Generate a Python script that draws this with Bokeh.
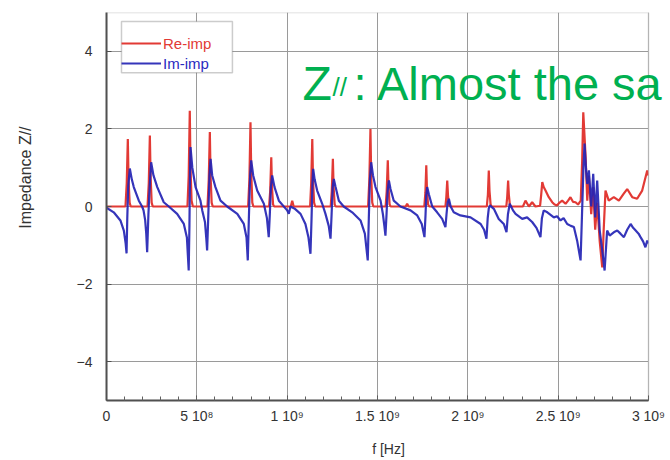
import numpy as np
from bokeh.plotting import figure
from bokeh.models import (Range1d, FixedTicker, Legend, LegendItem, Label,
                          ColumnDataSource, BoxAnnotation)
from bokeh.embed import file_html
from bokeh.resources import INLINE

# ---------------- data ----------------
# Real part of the impedance: frequency in MHz, value
re_freq_mhz = [0, 105, 112, 118, 122, 128, 134,
               227, 234, 240, 244, 250, 256,
               448, 455, 461, 465, 471, 478,
               559, 566, 572, 576, 582, 588,
               784, 791, 797, 801, 807, 813,
               900, 906, 912, 916, 922, 928,
               1020, 1028, 1036,
               1127, 1133, 1139, 1143, 1149, 1155,
               1241, 1247, 1253, 1257, 1263, 1269,
               1448, 1455, 1461, 1465, 1471, 1477,
               1545, 1551, 1557, 1561, 1567, 1573,
               1656, 1664, 1672,
               1759, 1765, 1770, 1774, 1780, 1786,
               1876, 1881, 1886, 1890, 1896, 1902,
               2105, 2111, 2116, 2120, 2126, 2132,
               2213, 2218, 2223, 2227, 2233, 2239,
               2305, 2319, 2338, 2356, 2374,
               2400, 2406, 2412, 2420, 2430, 2448, 2467, 2480, 2494, 2508,
               2522, 2541, 2555, 2568, 2582, 2596, 2610, 2625, 2633, 2639,
               2652, 2661, 2670, 2683, 2694, 2705, 2716, 2730, 2744, 2752,
               2762, 2780, 2808, 2836, 2863, 2882, 2910, 2937, 2965, 2993, 3000]
re_value = [0, 0, 0.6, 1.74, 0.7, 0.1, 0,
            0, 0.6, 1.83, 0.8, 0.1, 0,
            0, 0.8, 2.47, 1.0, 0.15, 0,
            0, 0.7, 1.92, 0.8, 0.1, 0,
            0, 0.7, 2.17, 0.9, 0.1, 0,
            0, 0.4, 1.27, 0.5, 0.05, 0,
            0, 0.15, 0,
            0, 0.6, 1.74, 0.7, 0.1, 0,
            0, 0.4, 1.23, 0.5, 0.05, 0,
            0, 0.7, 2.0, 0.8, 0.1, 0,
            0, 0.4, 1.19, 0.5, 0.05, 0,
            0, 0.07, 0,
            0, 0.35, 1.06, 0.4, 0.05, 0,
            0, 0.25, 0.67, 0.3, 0.03, 0,
            0, 0.3, 0.93, 0.4, 0.05, 0,
            0, 0.25, 0.67, 0.3, 0.03, 0,
            0, 0.15, 0.0, 0.11, 0.0,
            0.02, 0.3, 0.63, 0.5, 0.41, 0.24, 0.11, 0.05, 0.03, 0.1,
            0.15, 0.07, 0.15, 0.24, 0.12, 0.11, 0.05, 0.15, 1.2, 2.43,
            1.27, 0.15, 0.8, -0.2, 0.5, -0.6, 0.1, -0.9, -1.57, -0.6,
            0.41, 0.15, 0.24, 0.15, 0.33, 0.45, 0.24, 0.2, 0.41, 0.93, 0.8]

# Imaginary part of the impedance: frequency in MHz, value
im_freq_mhz = [0, 40, 77, 96, 106, 111, 115, 120, 129, 140, 151, 179, 197,
               205, 214, 220, 225, 232, 240, 247, 260, 281, 317, 345,
               391, 428, 445, 455, 459, 462, 465, 475, 493, 520,
               530, 545, 552, 557, 563, 570, 576, 585, 603, 631, 668,
               724, 760, 775, 782, 788, 795, 801, 812, 834, 871,
               888, 898, 904, 910, 917, 930, 954, 1000, 1009, 1018, 1040,
               1074, 1101, 1118, 1129, 1135, 1140, 1144, 1152, 1166, 1194,
               1212, 1230, 1240, 1246, 1252, 1258, 1268, 1286, 1313,
               1360, 1406, 1430, 1446, 1452, 1458, 1465, 1475, 1489, 1517,
               1530, 1538, 1544, 1550, 1556, 1563, 1572, 1590, 1627,
               1683, 1720, 1745, 1760, 1766, 1770, 1775, 1785, 1803,
               1830, 1858, 1876, 1882, 1888, 1895, 1905, 1922, 1959, 2015,
               2071, 2090, 2103, 2110, 2116, 2122, 2144, 2171, 2199,
               2214, 2222, 2232, 2250, 2264, 2301, 2328, 2356, 2380,
               2402, 2410, 2420, 2440, 2476, 2494, 2513, 2530, 2550, 2570,
               2587, 2605, 2624, 2632, 2640, 2646, 2655, 2661, 2670, 2683,
               2694, 2705, 2716, 2730, 2744, 2757, 2771, 2785, 2799, 2813,
               2827, 2845, 2864, 2882, 2901, 2915, 2929, 2945, 2956, 2970,
               2983, 2993, 3000]
im_value = [-0.03, -0.15, -0.36, -0.62, -0.95, -1.21, -0.3, 0.5, 0.98, 0.7, 0.5, 0.15, 0.0,
            -0.1, -0.35, -0.7, -1.18, -0.2, 0.6, 1.14, 0.8, 0.5, 0.11, 0.0,
            -0.19, -0.45, -0.8, -1.65, -0.5, 0.8, 1.53, 1.0, 0.5, 0.15,
            -0.1, -0.4, -0.8, -1.13, -0.3, 0.8, 1.23, 0.8, 0.5, 0.15, 0.0,
            -0.19, -0.45, -0.8, -1.39, -0.3, 0.8, 1.19, 0.8, 0.41, 0.07,
            -0.3, -0.79, -0.2, 0.5, 0.8, 0.5, 0.15, -0.1, -0.19, 0.0, -0.05,
            -0.19, -0.45, -0.8, -1.22, -0.3, 0.6, 0.97, 0.7, 0.41, 0.07,
            -0.19, -0.5, -0.83, -0.2, 0.5, 0.71, 0.5, 0.15, 0.0,
            -0.15, -0.36, -0.7, -1.39, -0.3, 0.7, 1.14, 0.8, 0.5, 0.15,
            -0.2, -0.5, -0.75, -0.2, 0.4, 0.67, 0.45, 0.15, 0.0,
            -0.1, -0.23, -0.45, -0.79, -0.2, 0.3, 0.5, 0.3, 0.0,
            -0.15, -0.32, -0.53, -0.2, 0.1, 0.2, 0.0, -0.15, -0.23, -0.28,
            -0.45, -0.6, -0.83, -0.3, -0.05, 0.03, -0.06, -0.32, -0.45,
            -0.66, -0.2, 0.07, -0.1, -0.19, -0.32, -0.28, -0.4, -0.55,
            -0.79, -0.3, -0.1, -0.15, -0.28, -0.25, -0.36, -0.3, -0.45, -0.5,
            -0.53, -0.88, -1.39, -0.2, 1.0, 1.62, 0.9, 0.58, 0.93, 0.0,
            0.84, -0.28, 0.67, -0.62, -1.13, -1.65, -0.62, -0.75, -0.7, -0.65,
            -0.62, -0.7, -0.79, -0.6, -0.45, -0.55, -0.62, -0.7, -0.79, -0.9,
            -1.05, -0.88, -0.95]

x_ticks = [0, 500000000, 1000000000, 1500000000, 2000000000, 2500000000, 3000000000]
x_tick_labels = ["0", "5 10\u2078", "1 10\u2079", "1.5 10\u2079", "2 10\u2079", "2.5 10\u2079", "3 10\u2079"]
y_ticks = [-4, -2, 0, 2, 4]
series_names = ["Re-imp", "Im-imp"]

X_MAX, Y_MIN, Y_MAX = 3e9, -5, 5

# ---------------- figure ----------------
# The frame runs on to the right edge of the picture (so that the overlay text is not cut),
# the part right of 3e9 is masked white and the visible plot box is drawn at 0..3e9.
W, H = 670, 460
frame_px = W - 106
x_end = X_MAX * frame_px / 542.0
p = figure(width=W, height=H, output_backend="svg", toolbar_location=None,
           x_range=Range1d(0, x_end), y_range=Range1d(Y_MIN, Y_MAX),
           min_border_left=106, min_border_right=0, min_border_top=12,
           min_border_bottom=60)
p.background_fill_color = "white"
p.border_fill_color = "white"
p.outline_line_color = None

re_src = ColumnDataSource(dict(f=np.array(re_freq_mhz) * 1e6, v=re_value))
im_src = ColumnDataSource(dict(f=np.array(im_freq_mhz) * 1e6, v=im_value))
r_re = p.line("f", "v", source=re_src, line_color="#e23a35", line_width=2.2)
r_im = p.line("f", "v", source=im_src, line_color="#2424b4", line_width=2.2, line_alpha=0.92)

# axes
p.xaxis.ticker = FixedTicker(ticks=x_ticks, minor_ticks=[i * 1e8 for i in range(31)])
p.xaxis.major_label_overrides = dict(zip(x_ticks, x_tick_labels))
p.xaxis.bounds = (0, X_MAX)
p.yaxis.ticker = FixedTicker(ticks=y_ticks)
for ax in (p.xaxis, p.yaxis):
    ax.axis_line_color = "#505050"
    ax.axis_line_width = 2
    ax.major_tick_line_color = "#505050"
    ax.minor_tick_line_color = "#606060"
    ax.major_label_text_font = "Liberation Sans"
    ax.major_label_text_font_size = "14px"
    ax.major_label_text_color = "#333333"
    ax.major_tick_out = 0
    ax.minor_tick_out = 0
    ax.level = "overlay"
p.xaxis.major_tick_in = 5
p.xaxis.minor_tick_in = 4
p.yaxis.major_tick_in = 5
p.yaxis.minor_tick_in = 0
p.xaxis.major_label_standoff = 7
p.yaxis.major_label_standoff = 14
p.xaxis.axis_label = "f [Hz]"
p.xaxis.axis_label_text_font = "Liberation Sans"
p.xaxis.axis_label_text_font_size = "14px"
p.xaxis.axis_label_text_font_style = "normal"
p.xaxis.axis_label_text_color = "#333333"
p.xaxis.axis_label_standoff = 14

# y axis title (leading no-break spaces lift the visible words above the centre, as in the reference)
p.yaxis.axis_label = "\u00a0" * 13 + "Impedance Z//"
p.yaxis.axis_label_text_font = "Liberation Sans"
p.yaxis.axis_label_text_font_size = "16px"
p.yaxis.axis_label_text_font_style = "normal"
p.yaxis.axis_label_text_color = "#333333"
p.yaxis.axis_label_standoff = 40

p.xgrid.grid_line_color = "#9a9a9a"
p.ygrid.grid_line_color = "#9a9a9a"
p.xgrid.grid_line_width = 1
p.ygrid.grid_line_width = 1

# white mask right of the plot box, then the plot box outline
p.add_layout(BoxAnnotation(left=X_MAX, right=x_end * 1.05, top=Y_MAX + 1, bottom=Y_MIN - 1,
                           fill_color="white", fill_alpha=1.0, line_color=None,
                           level="annotation"))
p.add_layout(BoxAnnotation(left=0, right=X_MAX, top=Y_MAX, bottom=Y_MIN,
                           fill_alpha=0.0, line_color="#7a7a7a", line_width=1.5,
                           level="annotation"))

# legend frame (white box with dark border) and two one-item legends
p.add_layout(BoxAnnotation(left=0.083e9, right=0.697e9, top=4.77, bottom=3.45,
                           fill_color="white", fill_alpha=1.0,
                           line_color="#555555", line_width=1.5, level="annotation"))
common = dict(glyph_width=40, glyph_height=20, label_height=20, label_standoff=2,
              spacing=0, label_width=55, margin=0, padding=6,
              label_text_font="Liberation Sans", label_text_font_size="15px",
              background_fill_alpha=0.0, border_line_color=None)
leg_a = Legend(items=[LegendItem(label=series_names[0], renderers=[r_re])],
               location=(15, 347), label_text_color="#e23a35", **common)
leg_b = Legend(items=[LegendItem(label=series_names[1], renderers=[r_im])],
               location=(15, 327), label_text_color="#2a2ac0", **common)
p.add_layout(leg_a, "center")
p.add_layout(leg_b, "center")

# green slide overlay text
green = "#00b050"
p.add_layout(Label(x=1.085e9, y=3.17, text="Z", text_font="Liberation Sans",
                   text_font_size="48px", text_color=green, text_baseline="alphabetic"))
p.add_layout(Label(x=1.251e9, y=3.09, text="//", text_font="Liberation Sans",
                   text_font_size="26px", text_color=green, text_baseline="alphabetic"))
p.add_layout(Label(x=1.367e9, y=3.17, text=": Almost the sa", text_font="Liberation Sans",
                   text_font_size="47px", text_color=green, text_baseline="alphabetic"))

open("out.html", "w").write(file_html(p, INLINE))
